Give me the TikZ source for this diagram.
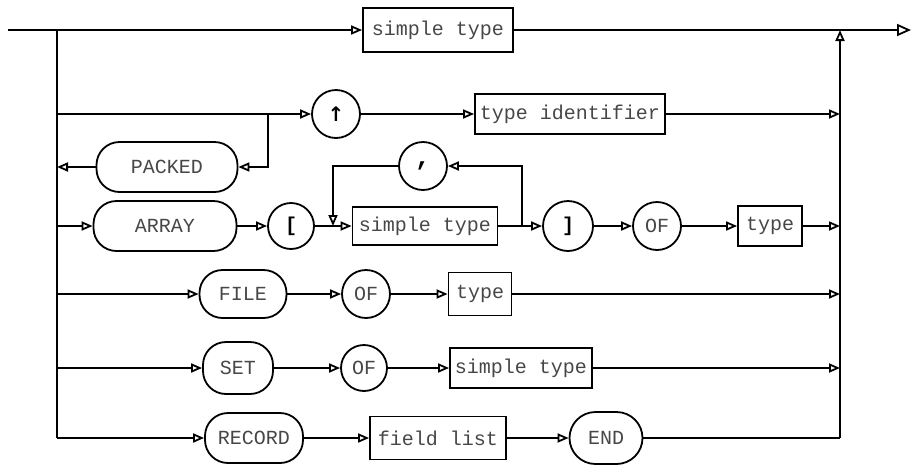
\documentclass[tikz,border=0pt]{standalone}
\usepackage{fontspec}
\newfontfamily\monof{Liberation Mono}
\newfontfamily\dvf{DejaVu Sans}
\usetikzlibrary{arrows.meta}
\begin{document}
\begin{tikzpicture}[x=1pt,y=-1pt,
  line width=1.8pt,
  every node/.style={font=\monof\fontsize{20}{22}\selectfont, text=black!72, inner sep=0pt},
  box/.style={draw=black, rectangle, minimum width=#1, minimum height=40pt},
  kw/.style={draw=black, rectangle, rounded corners=23pt, minimum width=#1, minimum height=50pt},
  circ/.style={draw=black, circle, minimum size=48pt},
  arr/.style={-{Triangle[open,length=11pt,width=9pt]}},
  bigarr/.style={-{Triangle[open,length=14pt,width=12pt]}}
]
\useasboundingbox (0,0) rectangle (913,469);

% junction coordinates
\coordinate (start) at (8,30);
\coordinate (Ltop) at (57,30);
\coordinate (L2) at (57,114);
\coordinate (Lp) at (57,167);
\coordinate (La) at (57,226);
\coordinate (Lf) at (57,294);
\coordinate (Ls) at (57,368);
\coordinate (Lr) at (57,438);
\coordinate (Rtop) at (840,30);
\coordinate (R2) at (840,114);
\coordinate (Ra) at (840,226);
\coordinate (Rf) at (840,294);
\coordinate (Rs) at (840,368);
\coordinate (Rr) at (840,438);
\coordinate (exit) at (911,30);
\coordinate (pk1) at (268,114);
\coordinate (pk2) at (268,167);
\coordinate (lp1) at (522,226);
\coordinate (lp2) at (522,166);
\coordinate (lp3) at (333,166);
\coordinate (lp4) at (333,226);

% nodes
\node[box=150pt, minimum height=44pt] (st1) at (438,30) {simple type};
\node[circ] (up) at (336,114) {\dvf\bfseries\color{black} ↑};
\node[box=190pt] (tid) at (570,114) {type identifier};
\node[kw=141pt] (packed) at (167,167) {PACKED};
\node[kw=143pt] (array) at (165,226) {ARRAY};
\node[circ, minimum size=46pt] (lbr) at (291,226) {\bfseries\color{black} [};
\node[box=145pt, minimum height=38pt] (st2) at (425,226) {simple type};
\node[circ] (comma) at (423,166) {\fontsize{26}{26}\selectfont\bfseries\color{black} ,};
\node[circ, minimum size=50pt] (rbr) at (568,226) {\bfseries\color{black} ]};
\node[circ] (of1) at (657,226) {OF};
\node[box=64pt] (type1) at (770,226) {type};
\node[kw=87pt, minimum height=48pt] (file) at (243,294) {FILE};
\node[circ] (of2) at (366,294) {OF};
\node[box=63pt, minimum height=43pt] (type2) at (480,294) {type};
\node[kw=70pt, minimum height=52pt] (set) at (238,368) {SET};
\node[circ, minimum size=46pt] (of3) at (364,368) {OF};
\node[box=142pt] (st3) at (521,368) {simple type};
\node[kw=98pt] (record) at (254,438) {RECORD};
\node[box=136pt, minimum height=43pt] (fl) at (438,438) {field list};
\node[kw=73pt, minimum height=52pt, rounded corners=26pt] (end) at (606,438) {END};

% buses
\draw (Ltop) -- (Lr);
\draw[arr] (Rr) -- (Rtop);

% top row
\draw[arr] (start) -- (st1.west);
\draw[bigarr] (st1.east) -- (exit);

% pointer row
\draw[arr] (L2) -- (up.west);
\draw[arr] (up.east) -- (tid.west);
\draw[arr] (tid.east) -- (R2);

% packed
\draw[arr] (pk1) -- (pk2) -- (packed.east);
\draw[arr] (packed.west) -- (Lp);

% array row
\draw[arr] (La) -- (array.west);
\draw[arr] (array.east) -- (lbr.west);
\draw[arr] (lbr.east) -- (st2.west);
\draw[arr] (st2.east) -- (rbr.west);
\draw[arr] (rbr.east) -- (of1.west);
\draw[arr] (of1.east) -- (type1.west);
\draw[arr] (type1.east) -- (Ra);
\draw[arr] (lp1) -- (lp2) -- (comma.east);
\draw[arr] (comma.west) -- (lp3) -- (lp4);

% file row
\draw[arr] (Lf) -- (file.west);
\draw[arr] (file.east) -- (of2.west);
\draw[arr] (of2.east) -- (type2.west);
\draw[arr] (type2.east) -- (Rf);

% set row
\draw[arr] (Ls) -- (set.west);
\draw[arr] (set.east) -- (of3.west);
\draw[arr] (of3.east) -- (st3.west);
\draw[arr] (st3.east) -- (Rs);

% record row
\draw[arr] (Lr) -- (record.west);
\draw[arr] (record.east) -- (fl.west);
\draw[arr] (fl.east) -- (end.west);
\draw (end.east) -- (Rr);
\end{tikzpicture}
\end{document}
